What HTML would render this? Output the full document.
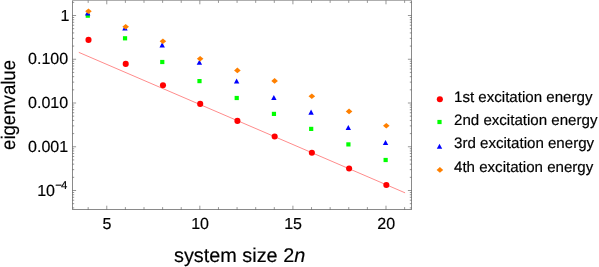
<!DOCTYPE html>
<html><head><meta charset="utf-8"><title>plot</title>
<style>
html,body{margin:0;padding:0;background:#fff;}
#w{width:599px;height:267px;overflow:hidden;will-change:transform;background:#fff;}
svg{display:block;}
text{font-family:"Liberation Sans",sans-serif;fill:#000;text-rendering:geometricPrecision;stroke:#000;stroke-width:0.18px;}
</style></head>
<body>
<div id="w">
<svg width="599" height="267" viewBox="0 0 599 267">
<rect width="599" height="267" fill="#fff"/>
<path d="M72.5 0.0V210.0M411.5 0.0V210.0M72.0 209.5H412.0" fill="none" stroke="#8a8a8a" stroke-width="1"/>
<path d="M72.0 0.5H412.0" fill="none" stroke="#aeaeae" stroke-width="1"/>
<path d="M88.16 209.5v-2.4M88.16 0.5v2.4M106.77 209.5v-3.8M106.77 0.5v3.8M125.38 209.5v-2.4M125.38 0.5v2.4M144.00 209.5v-2.4M144.00 0.5v2.4M162.62 209.5v-2.4M162.62 0.5v2.4M181.23 209.5v-2.4M181.23 0.5v2.4M199.84 209.5v-3.8M199.84 0.5v3.8M218.46 209.5v-2.4M218.46 0.5v2.4M237.07 209.5v-2.4M237.07 0.5v2.4M255.69 209.5v-2.4M255.69 0.5v2.4M274.31 209.5v-2.4M274.31 0.5v2.4M292.92 209.5v-3.8M292.92 0.5v3.8M311.53 209.5v-2.4M311.53 0.5v2.4M330.15 209.5v-2.4M330.15 0.5v2.4M348.76 209.5v-2.4M348.76 0.5v2.4M367.38 209.5v-2.4M367.38 0.5v2.4M385.99 209.5v-3.8M385.99 0.5v3.8M404.61 209.5v-2.4M404.61 0.5v2.4M72.5 15.50h3.6M411.5 15.50h-3.6M72.5 2.33h1.7M411.5 2.33h-1.7M72.5 59.25h3.6M411.5 59.25h-3.6M72.5 46.08h1.7M411.5 46.08h-1.7M72.5 38.38h1.7M411.5 38.38h-1.7M72.5 32.91h1.7M411.5 32.91h-1.7M72.5 28.67h1.7M411.5 28.67h-1.7M72.5 25.21h1.7M411.5 25.21h-1.7M72.5 22.28h1.7M411.5 22.28h-1.7M72.5 19.74h1.7M411.5 19.74h-1.7M72.5 17.50h1.7M411.5 17.50h-1.7M72.5 103.00h3.6M411.5 103.00h-3.6M72.5 89.83h1.7M411.5 89.83h-1.7M72.5 82.13h1.7M411.5 82.13h-1.7M72.5 76.66h1.7M411.5 76.66h-1.7M72.5 72.42h1.7M411.5 72.42h-1.7M72.5 68.96h1.7M411.5 68.96h-1.7M72.5 66.03h1.7M411.5 66.03h-1.7M72.5 63.49h1.7M411.5 63.49h-1.7M72.5 61.25h1.7M411.5 61.25h-1.7M72.5 146.75h3.6M411.5 146.75h-3.6M72.5 133.58h1.7M411.5 133.58h-1.7M72.5 125.88h1.7M411.5 125.88h-1.7M72.5 120.41h1.7M411.5 120.41h-1.7M72.5 116.17h1.7M411.5 116.17h-1.7M72.5 112.71h1.7M411.5 112.71h-1.7M72.5 109.78h1.7M411.5 109.78h-1.7M72.5 107.24h1.7M411.5 107.24h-1.7M72.5 105.00h1.7M411.5 105.00h-1.7M72.5 190.50h3.6M411.5 190.50h-3.6M72.5 177.33h1.7M411.5 177.33h-1.7M72.5 169.63h1.7M411.5 169.63h-1.7M72.5 164.16h1.7M411.5 164.16h-1.7M72.5 159.92h1.7M411.5 159.92h-1.7M72.5 156.46h1.7M411.5 156.46h-1.7M72.5 153.53h1.7M411.5 153.53h-1.7M72.5 150.99h1.7M411.5 150.99h-1.7M72.5 148.75h1.7M411.5 148.75h-1.7M72.5 207.91h1.7M411.5 207.91h-1.7M72.5 203.67h1.7M411.5 203.67h-1.7M72.5 200.21h1.7M411.5 200.21h-1.7M72.5 197.28h1.7M411.5 197.28h-1.7M72.5 194.74h1.7M411.5 194.74h-1.7M72.5 192.50h1.7M411.5 192.50h-1.7" fill="none" stroke="#505050" stroke-width="0.6"/>
<line x1="78.8" y1="52.35" x2="405.1" y2="192.85" stroke="#ff0000" stroke-width="0.46"/>
<circle cx="88.50" cy="39.90" r="3.05" fill="#ff0000"/>
<circle cx="125.73" cy="63.90" r="3.05" fill="#ff0000"/>
<circle cx="162.97" cy="85.30" r="3.05" fill="#ff0000"/>
<circle cx="200.19" cy="103.90" r="3.05" fill="#ff0000"/>
<circle cx="237.42" cy="120.90" r="3.05" fill="#ff0000"/>
<circle cx="274.66" cy="136.50" r="3.05" fill="#ff0000"/>
<circle cx="311.88" cy="152.70" r="3.05" fill="#ff0000"/>
<circle cx="349.12" cy="168.50" r="3.05" fill="#ff0000"/>
<circle cx="386.34" cy="184.95" r="3.05" fill="#ff0000"/>
<rect x="85.71" y="13.60" width="4.2" height="4.2" fill="#00ff00"/>
<rect x="122.94" y="36.20" width="4.2" height="4.2" fill="#00ff00"/>
<rect x="160.17" y="59.90" width="4.2" height="4.2" fill="#00ff00"/>
<rect x="197.39" y="79.00" width="4.2" height="4.2" fill="#00ff00"/>
<rect x="234.62" y="95.90" width="4.2" height="4.2" fill="#00ff00"/>
<rect x="271.85" y="111.80" width="4.2" height="4.2" fill="#00ff00"/>
<rect x="309.08" y="126.80" width="4.2" height="4.2" fill="#00ff00"/>
<rect x="346.31" y="142.30" width="4.2" height="4.2" fill="#00ff00"/>
<rect x="383.54" y="157.90" width="4.2" height="4.2" fill="#00ff00"/>
<path d="M87.70 10.50L90.41 15.60H85.00Z" fill="#0000ff"/>
<path d="M124.93 25.50L127.63 30.60H122.23Z" fill="#0000ff"/>
<path d="M162.17 42.35L164.87 47.45H159.47Z" fill="#0000ff"/>
<path d="M199.39 59.70L202.09 64.80H196.69Z" fill="#0000ff"/>
<path d="M236.62 78.40L239.32 83.50H233.93Z" fill="#0000ff"/>
<path d="M273.86 95.00L276.56 100.10H271.16Z" fill="#0000ff"/>
<path d="M311.08 109.60L313.78 114.70H308.38Z" fill="#0000ff"/>
<path d="M348.31 124.90L351.01 130.00H345.62Z" fill="#0000ff"/>
<path d="M385.54 139.90L388.24 145.00H382.84Z" fill="#0000ff"/>
<path d="M88.45 8.50L91.75 11.30L88.45 14.10L85.16 11.30Z" fill="#ff8000"/>
<path d="M125.68 23.90L128.98 26.70L125.68 29.50L122.38 26.70Z" fill="#ff8000"/>
<path d="M162.92 38.50L166.22 41.30L162.92 44.10L159.62 41.30Z" fill="#ff8000"/>
<path d="M200.14 55.90L203.44 58.70L200.14 61.50L196.84 58.70Z" fill="#ff8000"/>
<path d="M237.38 67.60L240.68 70.40L237.38 73.20L234.07 70.40Z" fill="#ff8000"/>
<path d="M274.61 78.10L277.91 80.90L274.61 83.70L271.31 80.90Z" fill="#ff8000"/>
<path d="M311.83 93.40L315.13 96.20L311.83 99.00L308.53 96.20Z" fill="#ff8000"/>
<path d="M349.06 108.60L352.37 111.40L349.06 114.20L345.76 111.40Z" fill="#ff8000"/>
<path d="M386.29 123.00L389.59 125.80L386.29 128.60L382.99 125.80Z" fill="#ff8000"/>
<circle cx="439.85" cy="99.30" r="3.05" fill="#ff0000"/>
<rect x="437.40" y="119.90" width="4.2" height="4.2" fill="#00ff00"/>
<path d="M439.50 143.75L442.20 148.85H436.80Z" fill="#0000ff"/>
<path d="M439.90 167.10L443.20 169.90L439.90 172.70L436.60 169.90Z" fill="#ff8000"/>
<text x="69.4" y="20.80" font-size="16.0" text-anchor="end" >1</text>
<text x="68.1" y="64.45" font-size="16.0" text-anchor="end" >0.100</text>
<text x="68.1" y="108.20" font-size="16.0" text-anchor="end" >0.010</text>
<text x="68.1" y="151.95" font-size="16.0" text-anchor="end" >0.001</text>
<text x="37.2" y="195.50" font-size="16.0" text-anchor="start" >10<tspan font-size="11.4" dy="-6.4" dx="0.3">−</tspan><tspan font-size="11.4" dx="-0.9">4</tspan></text>
<text x="106.97" y="229.40" font-size="16.0" text-anchor="middle" >5</text>
<text x="200.04499999999996" y="229.40" font-size="16.0" text-anchor="middle" >10</text>
<text x="293.11999999999995" y="229.40" font-size="16.0" text-anchor="middle" >15</text>
<text x="386.19499999999994" y="229.40" font-size="16.0" text-anchor="middle" >20</text>
<text x="174.0" y="261.80" font-size="19.85" text-anchor="start" >system size 2<tspan font-style="italic">n</tspan></text>
<text x="0" y="0.00" font-size="19.6" text-anchor="middle" transform="translate(14.7 104.95) rotate(-90) scale(0.95 1)">eigenvalue</text>
<text x="454.0" y="101.70" font-size="15.1" text-anchor="start" >1st excitation energy</text>
<text x="454.0" y="125.03" font-size="15.1" text-anchor="start" >2nd excitation energy</text>
<text x="454.0" y="148.36" font-size="15.1" text-anchor="start" >3rd excitation energy</text>
<text x="454.0" y="171.69" font-size="15.1" text-anchor="start" >4th excitation energy</text>
</svg>
</div>
</body></html>
